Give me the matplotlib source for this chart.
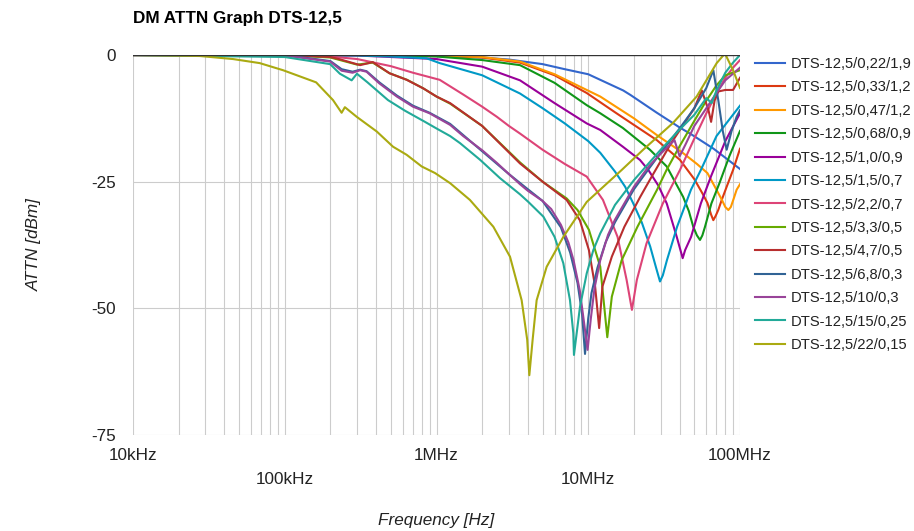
import matplotlib
matplotlib.use("Agg")
import matplotlib.pyplot as plt

plt.rcParams['font.family'] = ['Liberation Sans', 'DejaVu Sans']

# frequency in MHz, attenuation in dB
f_022 = [0.01, 0.1, 0.3, 1.0, 2.0, 3.0, 5.0, 7.0, 10.0, 17.0, 19.0, 28.0, 40.0, 48.0, 67.0, 100.0]
a_022 = [0.0, 0.0, 0.0, -0.2, -0.5, -0.9, -1.8, -2.8, -3.8, -7.0, -7.9, -11.3, -14.3, -15.7, -18.5, -22.5]

f_033 = [0.01, 0.1, 0.3, 1.0, 2.0, 3.55, 6.0, 9.77, 15.0, 20.0, 28.3, 40.2, 50.0, 57.0, 61.0, 64.5, 66.7, 69.0, 71.9, 76.0, 81.7, 90.0, 100.0]
a_033 = [0.0, 0.0, 0.0, -0.1, -0.5, -1.5, -4.0, -7.5, -11.3, -13.8, -16.8, -20.7, -24.5, -27.5, -29.2, -31.5, -32.6, -31.8, -30.6, -28.5, -26.0, -22.7, -18.5]

f_047 = [0.01, 0.1, 0.3, 1.0, 2.0, 3.55, 6.0, 9.77, 12.0, 20.0, 28.3, 41.9, 52.0, 61.0, 70.0, 76.0, 80.0, 83.8, 87.0, 91.0, 95.0, 100.0]
a_047 = [0.0, 0.0, 0.0, -0.1, -0.4, -1.3, -3.8, -6.9, -8.2, -12.5, -15.8, -19.3, -21.5, -23.3, -26.6, -28.6, -30.0, -30.6, -30.0, -28.3, -26.6, -25.5]

f_068 = [0.01, 0.1, 0.3, 1.0, 2.0, 3.55, 6.0, 9.77, 12.0, 16.9, 25.5, 32.9, 42.2, 46.0, 49.2, 52.0, 54.5, 56.5, 58.8, 64.8, 73.2, 85.0, 100.0]
a_068 = [0.0, 0.0, 0.0, -0.3, -1.0, -2.0, -5.5, -9.9, -11.5, -14.4, -18.7, -22.0, -28.0, -30.8, -33.9, -35.6, -36.5, -35.6, -33.9, -29.3, -25.3, -20.0, -15.0]

f_10a = [0.01, 0.1, 0.3, 1.0, 2.0, 3.55, 6.0, 9.77, 12.0, 16.9, 21.9, 24.9, 29.0, 32.9, 38.3, 40.5, 41.9, 43.5, 47.6, 55.2, 64.3, 80.0, 100.0]
a_10a = [0.0, 0.0, -0.1, -0.8, -2.3, -5.0, -9.5, -13.5, -14.8, -18.1, -20.7, -22.7, -25.8, -29.3, -35.9, -38.5, -40.1, -38.5, -35.9, -29.3, -24.0, -17.0, -11.5]

f_15 = [0.01, 0.1, 0.3, 0.5, 0.86, 1.05, 2.0, 3.55, 5.0, 7.0, 10.0, 12.0, 15.0, 17.5, 19.8, 22.5, 25.6, 28.0, 29.7, 31.0, 33.0, 38.5, 47.5, 55.2, 70.0, 100.0]
a_15 = [0.0, 0.0, -0.1, -0.3, -0.65, -1.6, -4.0, -7.6, -10.5, -13.5, -17.0, -19.3, -23.0, -26.0, -29.3, -33.0, -37.8, -42.0, -44.7, -43.5, -40.5, -33.9, -26.6, -22.7, -16.0, -10.0]

f_22a = [0.01, 0.1, 0.2, 0.3, 0.5, 0.7, 1.05, 1.5, 2.0, 2.5, 3.0, 3.55, 5.0, 7.0, 9.77, 12.5, 15.6, 17.9, 19.4, 20.9, 24.2, 31.0, 40.2, 50.0, 60.0, 70.0, 80.0, 90.0, 100.0]
a_22a = [0.0, 0.0, -0.3, -0.8, -2.2, -3.5, -4.9, -7.8, -10.2, -12.2, -14.0, -15.5, -18.7, -21.5, -24.0, -28.6, -35.9, -44.4, -50.3, -44.4, -37.2, -29.3, -22.7, -16.5, -11.5, -7.5, -4.5, -2.5, -1.0]

f_33 = [0.01, 0.1, 0.2, 0.3, 0.38, 0.49, 0.64, 0.82, 1.0, 1.23, 2.0, 3.55, 5.0, 7.2, 8.5, 10.1, 12.0, 13.35, 14.3, 16.6, 21.1, 28.4, 32.8, 40.0, 50.0, 60.0, 70.0, 80.0, 100.0]
a_33 = [0.0, 0.0, -0.5, -1.9, -1.5, -3.6, -4.9, -6.6, -8.2, -9.6, -14.0, -21.2, -25.0, -28.3, -30.6, -34.5, -41.8, -55.7, -47.7, -40.5, -33.9, -26.6, -22.7, -18.0, -13.0, -9.0, -6.0, -4.0, -3.0]

f_47 = [0.01, 0.1, 0.2, 0.231, 0.314, 0.38, 0.49, 0.636, 0.82, 1.0, 1.23, 2.0, 3.55, 5.0, 7.2, 8.8, 10.1, 11.1, 11.8, 12.4, 14.3, 17.3, 22.0, 25.4, 35.0, 50.0, 56.0, 62.0, 64.5, 68.0, 72.0, 80.0, 90.0, 100.0]
a_47 = [0.0, 0.0, -0.4, -0.85, -2.0, -1.4, -3.6, -4.9, -6.6, -8.2, -9.5, -14.0, -21.4, -25.0, -28.6, -32.6, -38.5, -45.7, -53.9, -45.7, -39.8, -33.9, -28.0, -24.7, -17.5, -10.5, -7.0, -10.9, -13.2, -9.0, -7.2, -6.9, -6.9, -4.5]

f_68 = [0.01, 0.1, 0.2, 0.237, 0.28, 0.314, 0.346, 0.42, 0.548, 0.7, 0.9, 1.23, 2.0, 3.0, 4.0, 5.0, 6.6, 7.6, 8.5, 9.1, 9.52, 10.0, 10.5, 11.5, 13.0, 15.0, 20.0, 25.0, 30.0, 40.0, 50.0, 60.0, 66.7, 72.0, 77.0, 81.7, 88.0, 95.0, 100.0]
a_68 = [0.0, 0.0, -1.2, -2.8, -3.3, -2.9, -3.2, -5.4, -8.0, -10.0, -11.4, -13.6, -19.0, -23.5, -26.5, -28.8, -34.0, -39.0, -45.0, -51.0, -59.0, -52.0, -47.0, -42.0, -37.0, -33.0, -26.5, -22.5, -19.3, -14.5, -10.5, -6.5, -3.0, -9.0, -15.0, -18.7, -15.0, -12.2, -10.9]

f_10 = [0.01, 0.1, 0.199, 0.237, 0.28, 0.314, 0.346, 0.42, 0.548, 0.7, 0.9, 1.23, 1.5, 2.0, 2.5, 3.0, 3.55, 4.0, 5.0, 5.7, 6.6, 7.4, 8.0, 8.8, 9.4, 9.9, 10.4, 11.0, 12.0, 13.5, 15.0, 20.0, 25.0, 30.0, 37.0, 40.0, 44.0, 50.0, 60.0, 70.0, 80.0, 100.0]
a_10 = [0.0, -0.1, -1.3, -3.1, -3.5, -3.0, -3.3, -5.6, -8.2, -10.2, -11.5, -13.8, -16.0, -18.8, -21.3, -23.5, -25.5, -26.8, -28.8, -30.4, -33.5, -37.0, -40.5, -46.5, -53.0, -58.2, -52.0, -46.0, -40.5, -35.5, -32.5, -26.0, -22.0, -19.5, -16.8, -20.0, -17.5, -14.0, -10.5, -7.5, -5.0, -2.5]

f_15b = [0.01, 0.1, 0.199, 0.231, 0.276, 0.299, 0.351, 0.479, 0.62, 0.84, 1.0, 1.23, 1.43, 1.94, 2.62, 3.55, 4.03, 5.06, 6.0, 6.85, 7.58, 7.97, 8.05, 8.39, 8.82, 9.77, 10.8, 12.0, 15.0, 20.0, 30.0, 41.0, 50.0, 60.0, 65.0, 70.0, 80.0, 90.0, 100.0]
a_15b = [0.0, -0.4, -1.8, -3.7, -5.0, -3.7, -5.4, -8.9, -11.0, -13.2, -14.5, -16.0, -17.4, -20.7, -24.3, -27.5, -29.0, -31.9, -35.9, -41.1, -48.4, -54.9, -59.2, -54.9, -49.7, -43.1, -38.5, -35.2, -29.6, -24.7, -18.7, -14.4, -11.8, -8.5, -9.5, -7.0, -3.5, -1.5, 0.0]

f_22b = [0.01, 0.0276, 0.0456, 0.0684, 0.0974, 0.161, 0.208, 0.237, 0.249, 0.298, 0.404, 0.517, 0.636, 0.799, 0.978, 1.23, 1.66, 2.37, 3.05, 3.64, 3.96, 4.09, 4.3, 4.57, 5.32, 6.85, 9.77, 16.6, 23.0, 36.2, 51.8, 70.2, 79.6, 90.0, 97.0, 100.0]
a_22b = [0.0, -0.2, -0.8, -1.6, -3.0, -5.4, -8.9, -11.4, -10.3, -12.2, -15.1, -18.1, -19.7, -22.0, -23.3, -25.3, -28.6, -33.9, -39.8, -48.4, -56.2, -63.2, -56.2, -48.4, -41.8, -35.9, -29.0, -22.7, -18.7, -13.4, -8.2, -1.6, 0.3, -3.0, -5.5, -6.5]

labels = ['DTS-12,5/0,22/1,9', 'DTS-12,5/0,33/1,2', 'DTS-12,5/0,47/1,2', 'DTS-12,5/0,68/0,9',
          'DTS-12,5/1,0/0,9', 'DTS-12,5/1,5/0,7', 'DTS-12,5/2,2/0,7', 'DTS-12,5/3,3/0,5',
          'DTS-12,5/4,7/0,5', 'DTS-12,5/6,8/0,3', 'DTS-12,5/10/0,3', 'DTS-12,5/15/0,25',
          'DTS-12,5/22/0,15']
freqs = [f_022, f_033, f_047, f_068, f_10a, f_15, f_22a, f_33, f_47, f_68, f_10, f_15b, f_22b]
attns = [a_022, a_033, a_047, a_068, a_10a, a_15, a_22a, a_33, a_47, a_68, a_10, a_15b, a_22b]
colors = ['#3366cc', '#dc3912', '#ff9900', '#109618', '#990099', '#0099c6', '#dd4477',
          '#66aa00', '#b82e2e', '#316395', '#994499', '#22aa99', '#aaaa11']

x_ticks = [0.01, 0.1, 1, 10, 100]
x_labels = ['10kHz', '\n100kHz', '1MHz', '\n10MHz', '100MHz']
y_ticks = [0, -25, -50, -75]
y_labels = ['0', '-25', '-50', '-75']

fig = plt.figure(figsize=(9.14, 5.31), dpi=100)
ax = fig.add_axes([133 / 914, 96 / 531, 607 / 914, 380 / 531])

for f, a, c, lab in zip(freqs, attns, colors, labels):
    ax.plot(f, a, color=c, lw=1.5, label=lab, solid_joinstyle='round')

ax.set_xscale('log')
ax.set_xlim(0.01, 100)
ax.set_ylim(-75, 0)

ax.grid(which='both', axis='x', color='#cccccc', lw=0.8)
for yv in [-25, -50, -75]:
    ax.axhline(yv, color='#cccccc', lw=0.8, zorder=0)
ax.axhline(0, color='#333333', lw=1.0, zorder=3)
ax.set_axisbelow(True)
for s in ax.spines.values():
    s.set_visible(False)

ax.set_xticks(x_ticks)
ax.set_xticklabels(x_labels, linespacing=1.75)
ax.set_yticks(y_ticks)
ax.set_yticklabels(y_labels)
ax.tick_params(axis='both', which='both', length=0, labelsize=12.3, labelcolor='#222222')
ax.tick_params(axis='x', pad=9)
ax.tick_params(axis='y', pad=12)
ax.xaxis.set_minor_formatter(matplotlib.ticker.NullFormatter())

ax.set_xlabel('Frequency [Hz]', fontsize=12.3, style='italic', color='#222222', labelpad=19)
ax.set_ylabel('ATTN [dBm]', fontsize=12.3, style='italic', color='#222222', labelpad=36)

fig.text(133 / 914, 1 - 19 / 531, 'DM ATTN Graph DTS-12,5', fontsize=12.3, fontweight='bold',
         va='center', ha='left', color='#000000')

ax.legend(loc='upper left', bbox_to_anchor=(755 / 914, 1 - 57 / 531), bbox_transform=fig.transFigure,
          frameon=False, fontsize=10.6, handlelength=2.05, handletextpad=0.4,
          labelspacing=0.64, borderpad=0, borderaxespad=0, labelcolor='#222222')

fig.savefig('out.png', dpi=100)
